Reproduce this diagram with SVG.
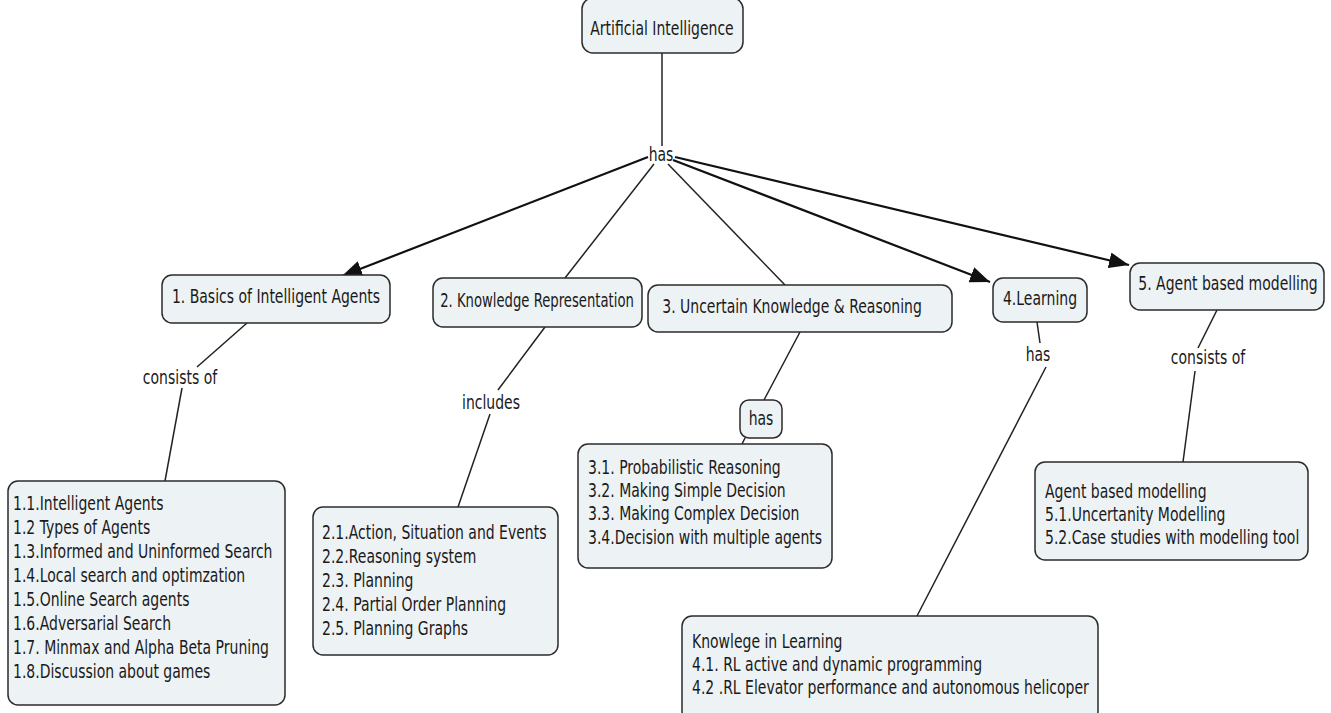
<svg xmlns="http://www.w3.org/2000/svg" width="1331" height="713" viewBox="0 0 1331 713">
  <style>
    .box { fill: #edf2f5; stroke: #2b2b2b; stroke-width: 1.5; }
    .t { font-family: "DejaVu Sans", Verdana, sans-serif; font-size: 20px; fill: #1a1a1a; }
    .c { text-anchor: middle; }
    .ln { stroke: #222; stroke-width: 1.5; fill: none; }
    .ar { stroke: #111; stroke-width: 2.2; fill: none; marker-end: url(#head); }
  </style>
  <defs>
    <marker id="head" markerUnits="userSpaceOnUse" markerWidth="22" markerHeight="16" refX="20" refY="8" orient="auto">
      <path d="M0,0 L20,8 L0,16 Z" fill="#111"/>
    </marker>
  </defs>
  <rect width="1331" height="713" fill="#ffffff"/>

  <!-- connectors -->
  <g id="connectors">
    <line class="ln" x1="662" y1="53" x2="662" y2="146"/>
    <line class="ar" x1="648" y1="157" x2="342" y2="276"/>
    <line class="ln" x1="654" y1="164" x2="565" y2="278"/>
    <line class="ln" x1="668" y1="164" x2="785" y2="285"/>
    <line class="ar" x1="673" y1="160" x2="990" y2="282"/>
    <line class="ar" x1="675" y1="157" x2="1129" y2="265"/>

    <line class="ln" x1="247" y1="323" x2="197" y2="367"/>
    <line class="ln" x1="182" y1="388" x2="165" y2="481"/>

    <line class="ln" x1="545" y1="327" x2="498" y2="390"/>
    <line class="ln" x1="490" y1="414" x2="458" y2="507"/>

    <line class="ln" x1="800" y1="332" x2="764" y2="400"/>
    <line class="ln" x1="745" y1="438" x2="742" y2="444"/>

    <line class="ln" x1="1037" y1="322" x2="1040" y2="343"/>
    <line class="ln" x1="1046" y1="367" x2="917" y2="616"/>

    <line class="ln" x1="1217" y1="310" x2="1198" y2="348"/>
    <line class="ln" x1="1195" y1="371" x2="1183" y2="462"/>
  </g>

  <!-- link labels -->
  <g id="labels">
    <text class="t c" transform="translate(661 161) scale(0.70 1)">has</text>
    <text class="t c" transform="translate(180 384) scale(0.70 1)">consists of</text>
    <text class="t c" transform="translate(491 409) scale(0.70 1)">includes</text>
    <text class="t c" transform="translate(1038 361) scale(0.70 1)">has</text>
    <text class="t c" transform="translate(1208 364) scale(0.70 1)">consists of</text>
  </g>

  <g id="root">
    <rect class="box" x="582" y="-2" width="161" height="55" rx="11"/>
    <text class="t c" transform="translate(662 35) scale(0.70 1)">Artificial Intelligence</text>
  </g>

  <g id="n1">
    <rect class="box" x="162" y="275" width="228" height="48" rx="10"/>
    <text class="t c" transform="translate(276 303) scale(0.70 1)">1. Basics of Intelligent Agents</text>
  </g>
  <g id="n2">
    <rect class="box" x="433" y="278" width="209" height="49" rx="10"/>
    <text class="t c" transform="translate(537 307) scale(0.66 1)">2. Knowledge Representation</text>
  </g>
  <g id="n3">
    <rect class="box" x="648" y="285" width="304" height="47" rx="10"/>
    <text class="t c" transform="translate(792 313) scale(0.70 1)">3. Uncertain Knowledge &amp; Reasoning</text>
  </g>
  <g id="n4">
    <rect class="box" x="993" y="278" width="94" height="44" rx="10"/>
    <text class="t c" transform="translate(1040 305) scale(0.70 1)">4.Learning</text>
  </g>
  <g id="n5">
    <rect class="box" x="1130" y="263" width="194" height="47" rx="10"/>
    <text class="t c" transform="translate(1228 290) scale(0.70 1)">5. Agent based modelling</text>
  </g>

  <g id="n3-has">
    <rect class="box" x="740" y="400" width="42" height="38" rx="9"/>
    <text class="t c" transform="translate(761 425) scale(0.70 1)">has</text>
  </g>

  <g id="n1-topics">
    <rect class="box" x="8" y="481" width="277" height="224" rx="10"/>
    <text class="t" transform="translate(13 0) scale(0.70 1)">
      <tspan x="0" y="510">1.1.Intelligent Agents</tspan>
      <tspan x="0" y="534">1.2 Types of Agents</tspan>
      <tspan x="0" y="558">1.3.Informed and Uninformed Search</tspan>
      <tspan x="0" y="582">1.4.Local search and optimzation</tspan>
      <tspan x="0" y="606">1.5.Online Search agents</tspan>
      <tspan x="0" y="630">1.6.Adversarial Search</tspan>
      <tspan x="0" y="654">1.7. Minmax and Alpha Beta Pruning</tspan>
      <tspan x="0" y="678">1.8.Discussion about games</tspan>
    </text>
  </g>

  <g id="n2-topics">
    <rect class="box" x="313" y="507" width="245" height="148" rx="10"/>
    <text class="t" transform="translate(322 0) scale(0.70 1)">
      <tspan x="0" y="539">2.1.Action, Situation and Events</tspan>
      <tspan x="0" y="563">2.2.Reasoning system</tspan>
      <tspan x="0" y="587">2.3. Planning</tspan>
      <tspan x="0" y="611">2.4. Partial Order Planning</tspan>
      <tspan x="0" y="635">2.5. Planning Graphs</tspan>
    </text>
  </g>

  <g id="n3-topics">
    <rect class="box" x="578" y="444" width="254" height="124" rx="10"/>
    <text class="t" transform="translate(588 0) scale(0.70 1)">
      <tspan x="0" y="474">3.1. Probabilistic Reasoning</tspan>
      <tspan x="0" y="497">3.2. Making Simple Decision</tspan>
      <tspan x="0" y="520">3.3. Making Complex Decision</tspan>
      <tspan x="0" y="544">3.4.Decision with multiple agents</tspan>
    </text>
  </g>

  <g id="n4-topics">
    <rect class="box" x="682" y="616" width="416" height="105" rx="10"/>
    <text class="t" transform="translate(692 0) scale(0.70 1)">
      <tspan x="0" y="648">Knowlege in Learning</tspan>
      <tspan x="0" y="671">4.1. RL active and dynamic programming</tspan>
      <tspan x="0" y="694">4.2 .RL Elevator performance and autonomous helicoper</tspan>
    </text>
  </g>

  <g id="n5-topics">
    <rect class="box" x="1035" y="462" width="273" height="98" rx="10"/>
    <text class="t" transform="translate(1045 0) scale(0.70 1)">
      <tspan x="0" y="498">Agent based modelling</tspan>
      <tspan x="0" y="521">5.1.Uncertanity Modelling</tspan>
      <tspan x="0" y="544">5.2.Case studies with modelling tool</tspan>
    </text>
  </g>
</svg>
